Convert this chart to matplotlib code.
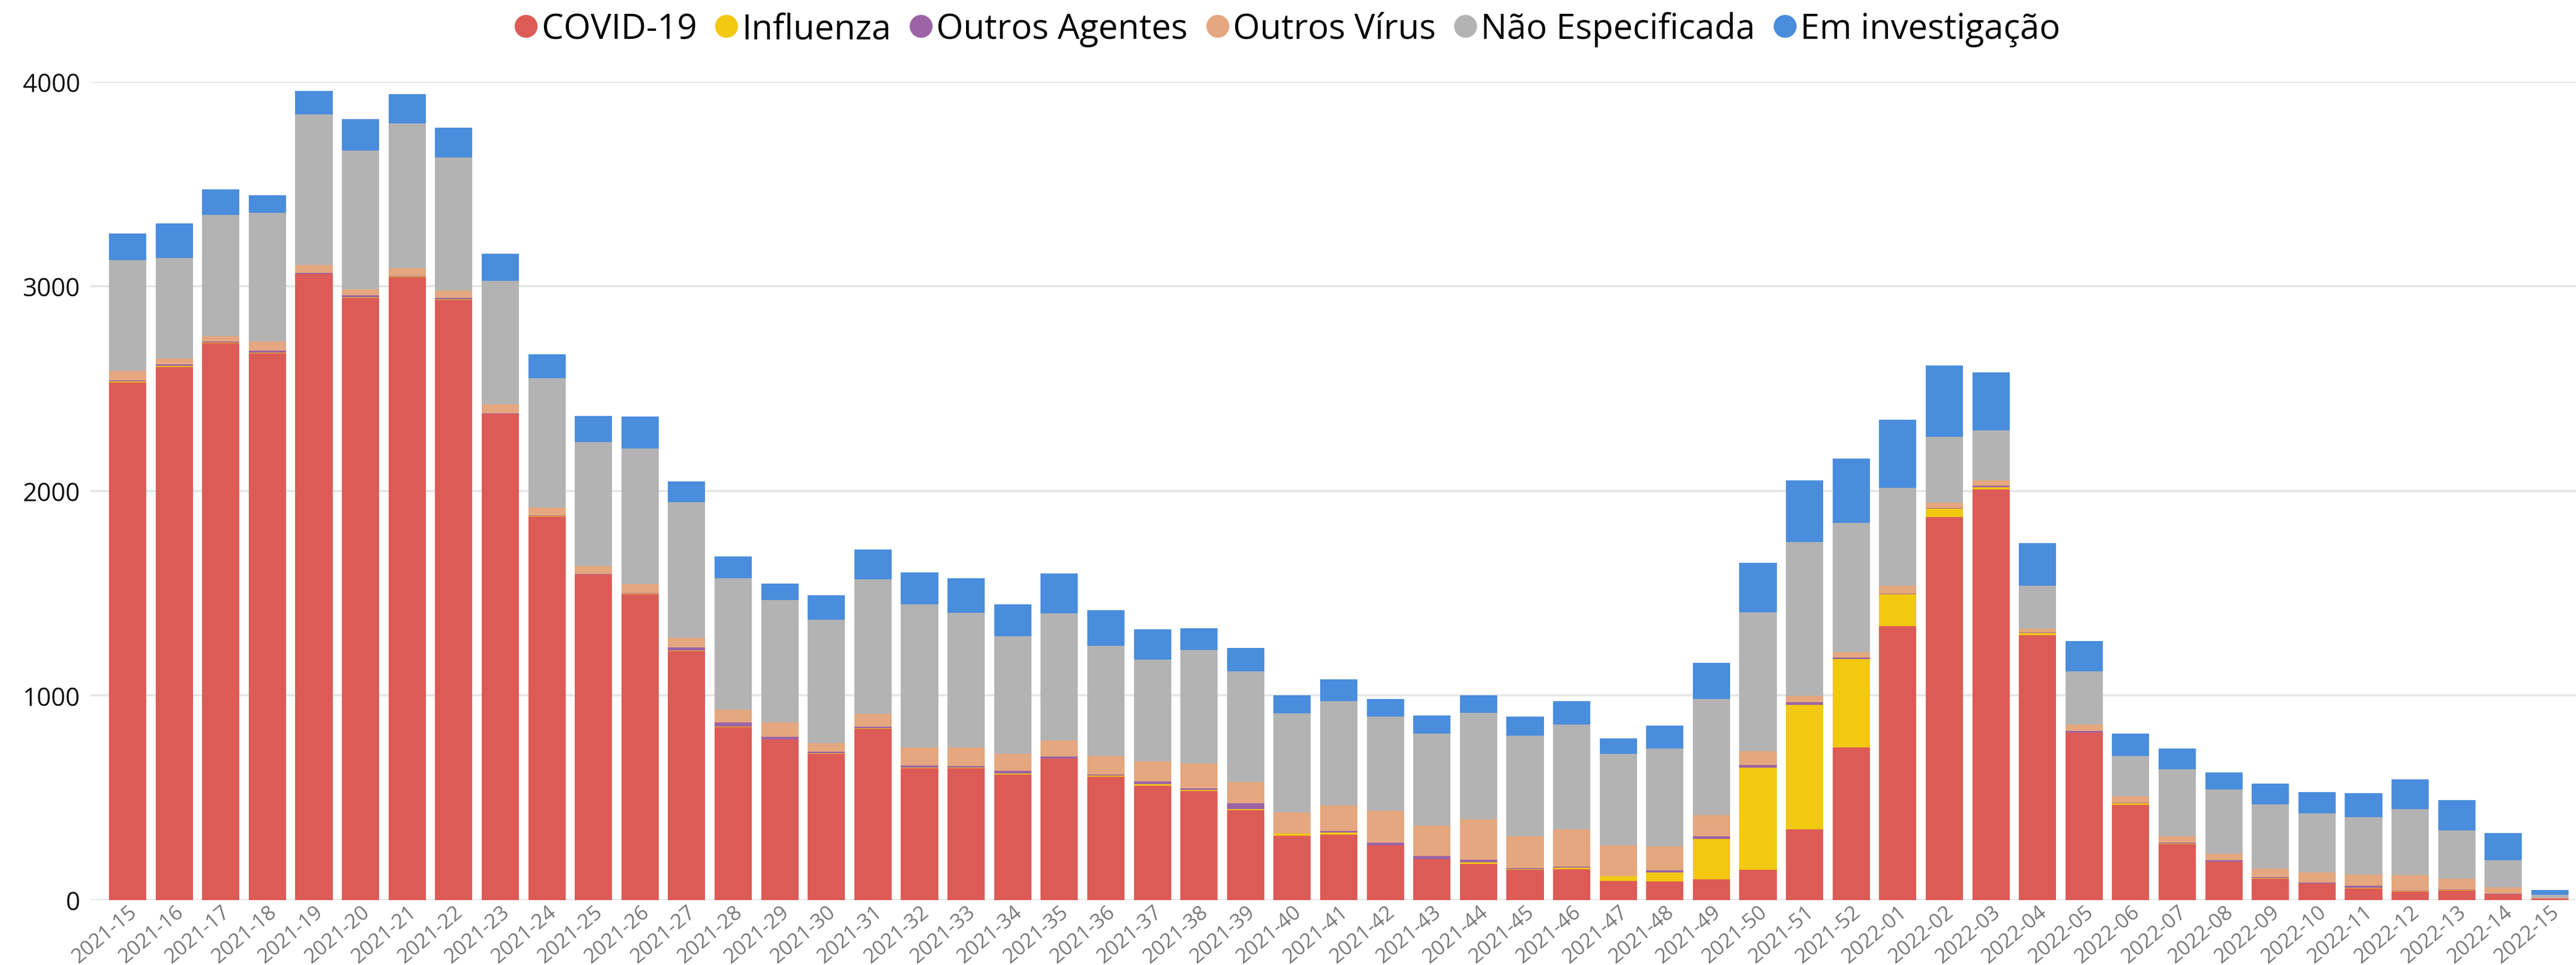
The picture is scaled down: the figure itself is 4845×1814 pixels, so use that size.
import matplotlib
matplotlib.use("Agg")
import matplotlib.pyplot as plt
from matplotlib.lines import Line2D
import numpy as np

weeks = ([f"2021-{w}" for w in range(15, 53)] +
         [f"2022-{w:02d}" for w in range(1, 16)])

covid = [2531, 2606, 2723, 2673, 3060, 2943, 3045, 2933, 2377, 1874, 1591, 1495, 1216,
         844, 785, 715, 836, 644, 644, 614, 691, 604, 559, 534, 440, 315, 321, 267, 201,
         177, 147, 151, 94, 90, 102, 147, 345, 747,
         1339, 1873, 2006, 1294, 819, 466, 274, 186, 104, 80, 58, 41, 47, 29, 8]
influenza = [3, 4, 3, 2, 0, 3, 3, 2, 0, 3, 0, 3, 3, 4, 0, 3, 3, 3, 4, 5, 0, 5, 8, 3, 5,
             10, 8, 2, 0, 8, 4, 8, 22, 44, 197, 500, 608, 430,
             157, 40, 11, 12, 0, 6, 2, 0, 3, 0, 3, 3, 3, 0, 0]
outros_agentes = [5, 7, 3, 10, 5, 10, 2, 9, 3, 2, 4, 2, 15, 21, 13, 8, 8, 12, 8, 13, 10,
                  5, 13, 10, 27, 1, 8, 12, 14, 12, 6, 4, 2, 12, 12, 14, 14, 8,
                  2, 2, 9, 3, 9, 4, 4, 8, 6, 5, 8, 4, 2, 2, 0]
outros_virus = [48, 31, 27, 46, 39, 29, 39, 36, 43, 41, 38, 44, 48, 61, 71, 42, 62, 86,
                89, 83, 78, 91, 98, 121, 105, 104, 127, 155, 148, 199, 154, 184, 149,
                117, 105, 68, 31, 26,
                38, 27, 25, 16, 30, 31, 33, 33, 40, 50, 57, 75, 52, 31, 2]
nao_especificada = [540, 491, 592, 627, 735, 679, 706, 650, 604, 630, 606, 664, 664, 642,
                    597, 603, 658, 701, 659, 574, 622, 538, 496, 555, 540, 483, 508, 462,
                    452, 520, 492, 510, 448, 478, 566, 677, 751, 632,
                    478, 323, 246, 212, 261, 197, 327, 313, 315, 289, 280, 321, 237, 133, 16]
em_investigacao = [131, 169, 126, 88, 115, 152, 143, 145, 133, 117, 126, 155, 101, 108,
                   81, 119, 146, 155, 168, 157, 195, 175, 150, 106, 116, 87, 108, 84, 87,
                   84, 95, 115, 76, 112, 177, 243, 303, 314,
                   335, 347, 281, 207, 147, 111, 100, 85, 101, 103, 116, 145, 147, 132, 24]

series_names = ["COVID-19", "Influenza", "Outros Agentes", "Outros Vírus",
                "Não Especificada", "Em investigação"]
series = [covid, influenza, outros_agentes, outros_virus, nao_especificada, em_investigacao]
colors = ["#DD5B56", "#F2C811", "#9C64A6", "#E4A77F", "#B3B3B3", "#4A8DDC"]

plt.rcParams['font.family'] = ['Open Sans', 'DejaVu Sans']

fig = plt.figure(figsize=(48.45, 18.15), dpi=100)
ax = fig.add_axes([170 / 4845, 122 / 1815, (4845 - 170) / 4845, (1693 - 154.5) / 1815])

x = np.arange(len(weeks))
bottom = np.zeros(len(weeks))
for vals, col in zip(series, colors):
    v = np.array(vals, dtype=float)
    ax.bar(x, v, bottom=bottom, width=0.8, color=col, linewidth=0, zorder=3)
    bottom += v

ax.set_xlim(-0.8, len(weeks) - 0.44)
ax.set_ylim(0, 4000)
ax.set_yticks([0, 1000, 2000, 3000, 4000])
ax.yaxis.grid(True, color="#E6E6E6", linewidth=3, zorder=0)
ax.set_axisbelow(True)
for s in ax.spines.values():
    s.set_visible(False)
ax.tick_params(axis="y", length=0, labelsize=34, pad=14, labelcolor="#111111")
ax.tick_params(axis="x", length=0, labelsize=28, pad=2, labelcolor="#777777")
ax.set_xticks(x)
ax.set_xticklabels(weeks, rotation=40, ha="right", rotation_mode="anchor")

handles = [Line2D([0], [0], marker="o", linestyle="", markersize=31,
                  markerfacecolor=c, markeredgewidth=0) for c in colors]
fig.legend(handles, series_names, loc="center", bbox_to_anchor=(0.5, 1 - 56 / 1815),
           ncol=6, frameon=False, fontsize=47, handlelength=0.6, handletextpad=0.15,
           columnspacing=0.55)

fig.savefig("out.png", dpi=100)
